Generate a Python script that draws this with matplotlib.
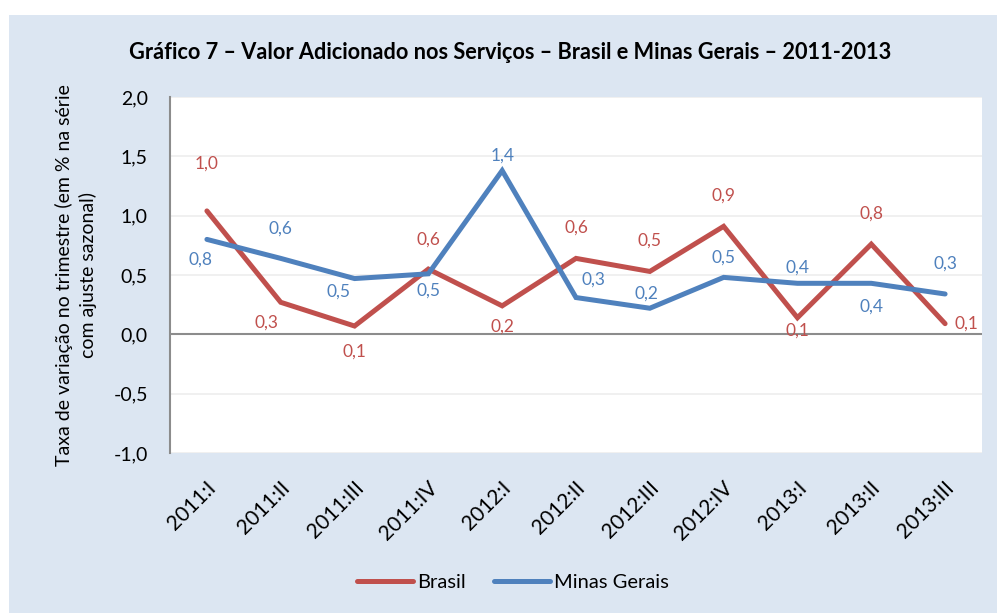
import matplotlib.pyplot as plt
from matplotlib.patches import Rectangle
from matplotlib.lines import Line2D
from matplotlib.transforms import ScaledTranslation

plt.rcParams['font.family'] = ['Lato', 'DejaVu Sans']

# quarters and values (% change, seasonally adjusted)
quarters = ['2011:I', '2011:II', '2011:III', '2011:IV', '2012:I', '2012:II',
            '2012:III', '2012:IV', '2013:I', '2013:II', '2013:III']
brasil = [1.04, 0.27, 0.07, 0.55, 0.24, 0.64, 0.53, 0.91, 0.14, 0.76, 0.09]
minas = [0.80, 0.64, 0.47, 0.51, 1.38, 0.31, 0.22, 0.48, 0.43, 0.43, 0.34]

# data label offsets in pixels (dx, dy with y up)
brasil_off = [(0, 47), (-14, -20), (0, -26), (0, 29), (0, -21), (0, 31),
              (0, 31), (0, 31), (0, -13), (0, 31), (21, 0)]
minas_off = [(-6, -20), (0, 30), (-16, -13), (0, -17), (0, 15), (18, 18),
             (-3, 15), (0, 20), (0, 16), (0, -23), (0, 30)]

red = '#C0504D'
blue = '#4F81BD'
bg = '#DCE6F2'

fig = plt.figure(figsize=(9.97, 6.13), dpi=100)
fig.patch.set_facecolor('white')
W, H = 997, 613
fig.patches.append(Rectangle((9 / W, 0), 1, 1 - 15 / H, transform=fig.transFigure,
                             facecolor=bg, edgecolor='none', zorder=-5))

ax = fig.add_axes([170 / W, 1 - 453 / H, (982 - 170) / W, (453 - 97) / H])
ax.set_facecolor('white')

x = range(len(quarters))
ax.plot(x, brasil, color=red, lw=3.6, solid_capstyle='round', solid_joinstyle='miter', zorder=3)
ax.plot(x, minas, color=blue, lw=3.6, solid_capstyle='round', solid_joinstyle='miter', zorder=3)

def fmt(v):
    return f'{v:.1f}'.replace('.', ',')

for vals, offs, c in [(brasil, brasil_off, red), (minas, minas_off, blue)]:
    for i, (v, (dx, dy)) in enumerate(zip(vals, offs)):
        ax.annotate(fmt(v), (i, v), xytext=(dx * 0.72, dy * 0.72), textcoords='offset points',
                    ha='center', va='center', color=c, fontsize=12.5, zorder=4)

ax.set_xlim(-0.5, len(quarters) - 0.5)
ax.set_ylim(-1.0, 2.0)
yt = [-1.0, -0.5, 0.0, 0.5, 1.0, 1.5, 2.0]
ax.set_yticks(yt)
ax.set_yticklabels([fmt(v) for v in yt], fontsize=14)
ax.tick_params(axis='y', length=0, pad=16)
ax.set_xticks(list(x))
ax.set_xticklabels([])
ax.tick_params(axis='x', length=0)

# rotated category labels, anchored just right of / below each category
lab_tr = ax.get_xaxis_transform() + ScaledTranslation(6 / 100, -32 / 100, fig.dpi_scale_trans)
for i, q in enumerate(quarters):
    ax.text(i, 0, q, transform=lab_tr, rotation=45, rotation_mode='anchor',
            ha='right', va='center', fontsize=15, clip_on=False)

for v in yt:
    if v != 0:
        ax.axhline(v, color='#EDEDED', lw=1.2, zorder=1)
ax.axhline(0, color='#8C8C8C', lw=1.5, zorder=2)

for s in ['top', 'right', 'bottom']:
    ax.spines[s].set_visible(False)
ax.spines['left'].set_color('#8C8C8C')
ax.spines['left'].set_linewidth(1.5)

fig.text(76 / W, 1 - 275 / H, 'Taxa de variação no trimestre (em % na série\ncom ajuste sazonal)',
         rotation=90, ha='center', va='center', fontsize=14, linespacing=1.45)

fig.text(510 / W, 1 - 59 / H,
         'Gráfico 7 – Valor Adicionado nos Serviços – Brasil e Minas Gerais – 2011-2013',
         ha='center', va='baseline', fontsize=15.7, fontweight='bold')

handles = [Line2D([], [], color=red, lw=3.6, solid_capstyle='round'),
           Line2D([], [], color=blue, lw=3.6, solid_capstyle='round')]
fig.legend(handles, ['Brasil', 'Minas Gerais'], loc='center', bbox_to_anchor=(513 / W, 1 - 582 / H),
           ncol=2, frameon=False, fontsize=14.5, handlelength=2.8, handletextpad=0.2, columnspacing=1.4)

fig.savefig('out.png', dpi=100, facecolor=fig.get_facecolor())
